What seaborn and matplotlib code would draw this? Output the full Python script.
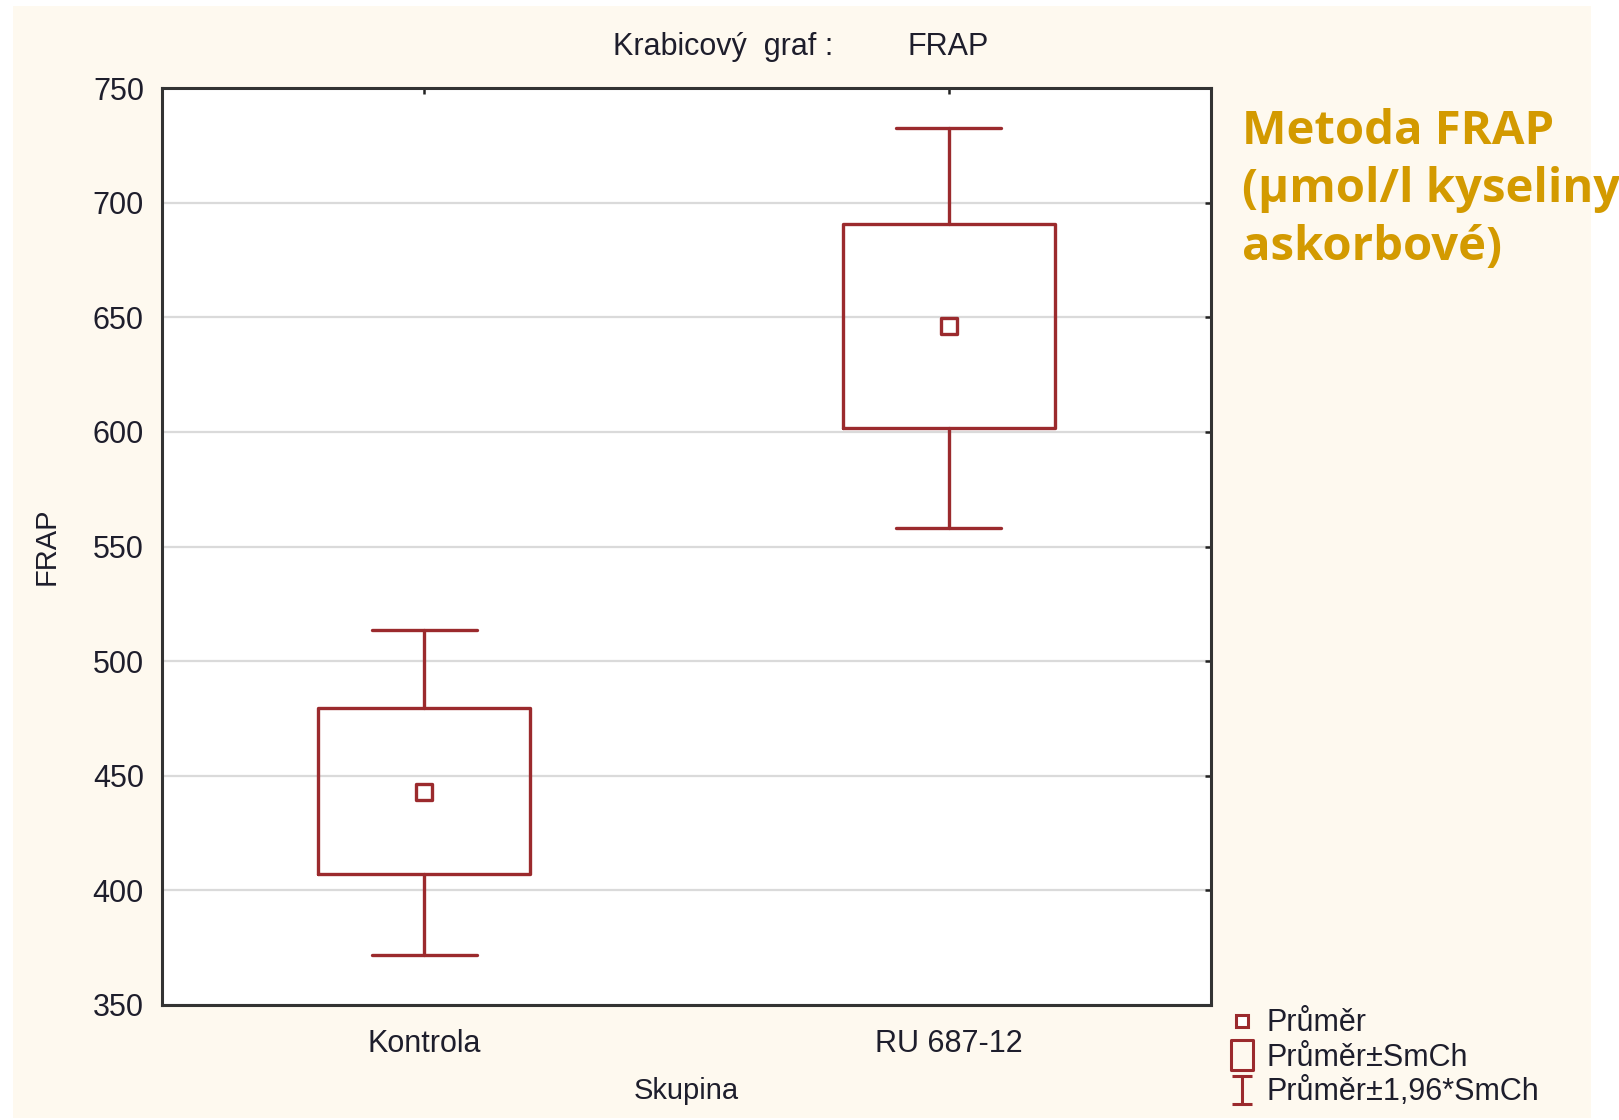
"""
Krabicovy graf FRAP: mean, mean +- SE box and mean +- 1.96*SE whiskers
for the two groups (Kontrola vs RU 687-12).
"""

import matplotlib

matplotlib.use("Agg")
import matplotlib.pyplot as plt
import pandas as pd
import seaborn as sns
from matplotlib.lines import Line2D
from matplotlib.path import Path

GROUPS = ["Kontrola", "RU 687-12"]
MEANS = [443.0, 646.0]
BOX_LO = [407.0, 601.5]      # mean - SE
BOX_HI = [479.5, 690.5]      # mean + SE
WHISK_LO = [372.0, 558.0]    # mean - 1.96*SE
WHISK_HI = [513.5, 732.5]    # mean + 1.96*SE
Y_TICKS = [350, 400, 450, 500, 550, 600, 650, 700, 750]
LEGEND_LABELS = ["Průměr", "Průměr±SmCh", "Průměr±1,96*SmCh"]

RED = "#9b2a2d"
TEXT = "#1e1e2c"
CREAM = "#fef9ef"
GOLD = "#d39a00"
W, H = 1619, 1120


def build_stats():
    return [
        {"label": g, "mean": m, "med": m, "q1": lo, "q3": hi, "whislo": wlo, "whishi": whi, "fliers": []}
        for g, m, lo, hi, wlo, whi in zip(GROUPS, MEANS, BOX_LO, BOX_HI, WHISK_LO, WHISK_HI)
    ]


def main() -> None:
    sns.set_style("white")
    plt.rcParams["font.family"] = ["Liberation Sans", "DejaVu Sans"]

    fig = plt.figure(figsize=(W / 100, H / 100), dpi=100, facecolor="white")
    # cream panel behind everything
    bg = fig.add_axes([13 / W, 1 - 1118 / H, (1591 - 13) / W, (1118 - 6) / H], zorder=-1)
    bg.set_facecolor(CREAM)
    bg.set_xticks([])
    bg.set_yticks([])
    for s in bg.spines.values():
        s.set_visible(False)

    ax = fig.add_axes([162 / W, 1 - 1005 / H, (1211 - 162) / W, (1005 - 88) / H])
    ax.set_facecolor("white")

    line = dict(color=RED, linewidth=2.4)
    ax.bxp(build_stats(), positions=[0, 1], widths=0.404, capwidths=0.2,
           showfliers=False, showmeans=False, patch_artist=False,
           boxprops=line, whiskerprops=line, capprops=line,
           medianprops=dict(linewidth=0))

    df = pd.DataFrame({"group": [0, 1], "mean": MEANS})
    sns.scatterplot(data=df, x="group", y="mean", ax=ax, marker="s", s=140,
                    facecolor="white", edgecolor=RED, linewidth=2.4, zorder=5)

    ax.set_xlim(-0.5, 1.5)
    ax.set_ylim(350, 750)
    ax.set_yticks(Y_TICKS)
    ax.set_xticks([0, 1])
    ax.set_xticklabels(GROUPS)
    ax.yaxis.grid(True, color="#dadada", linewidth=1.6)
    ax.set_axisbelow(True)
    for s in ax.spines.values():
        s.set_visible(True)
        s.set_color("#333333")
        s.set_linewidth(2.2)
    ax.tick_params(direction="in", length=4, width=1.8, color="#222222",
                   top=True, right=True, labelsize=22, labelcolor=TEXT)
    ax.tick_params(axis="y", pad=13)
    ax.tick_params(axis="x", pad=17)
    ax.set_xlabel("Skupina", fontsize=21, color=TEXT, labelpad=13)
    ax.set_ylabel("FRAP", fontsize=21, color=TEXT, labelpad=23)

    fig.text(613 / W, 1 - 47 / H, "Krabicový  graf :", fontsize=22,
             color=TEXT, ha="left", va="center")
    fig.text(907 / W, 1 - 47 / H, "FRAP", fontsize=22,
             color=TEXT, ha="left", va="center")
    fig.text(1242 / W, 1 - 260 / H, "Metoda FRAP\n(µmol/l kyseliny\naskorbové)",
             fontsize=34, fontweight="bold", family=["Open Sans", "DejaVu Sans"], color=GOLD,
             ha="left", va="baseline", linespacing=1.3)

    beam = Path([(-0.5, 0.7), (0.5, 0.7), (0, 0.7), (0, -0.7), (-0.5, -0.7), (0.5, -0.7)],
                [Path.MOVETO, Path.LINETO, Path.MOVETO, Path.LINETO, Path.MOVETO, Path.LINETO])
    rect = Path([(-0.45, -0.6), (0.45, -0.6), (0.45, 0.6), (-0.45, 0.6), (-0.45, -0.6)],
                [Path.MOVETO, Path.LINETO, Path.LINETO, Path.LINETO, Path.CLOSEPOLY])
    handles = [
        Line2D([], [], ls="none", marker="s", markersize=8, markerfacecolor="white",
               markeredgecolor=RED, markeredgewidth=2.2),
        Line2D([], [], ls="none", marker=rect, markersize=21, markerfacecolor="none",
               markeredgecolor=RED, markeredgewidth=2.2),
        Line2D([], [], ls="none", marker=beam, markersize=20, markerfacecolor="none",
               markeredgecolor=RED, markeredgewidth=2.2),
    ]
    fig.legend(handles, LEGEND_LABELS, loc="upper left", bbox_to_anchor=(1208 / W, 1 - 993 / H),
               frameon=False, fontsize=22, labelcolor=TEXT, handlelength=1.2,
               handletextpad=0.2, labelspacing=0.15, borderpad=0)

    fig.savefig("out.png", dpi=100, facecolor="white")


if __name__ == "__main__":
    main()
